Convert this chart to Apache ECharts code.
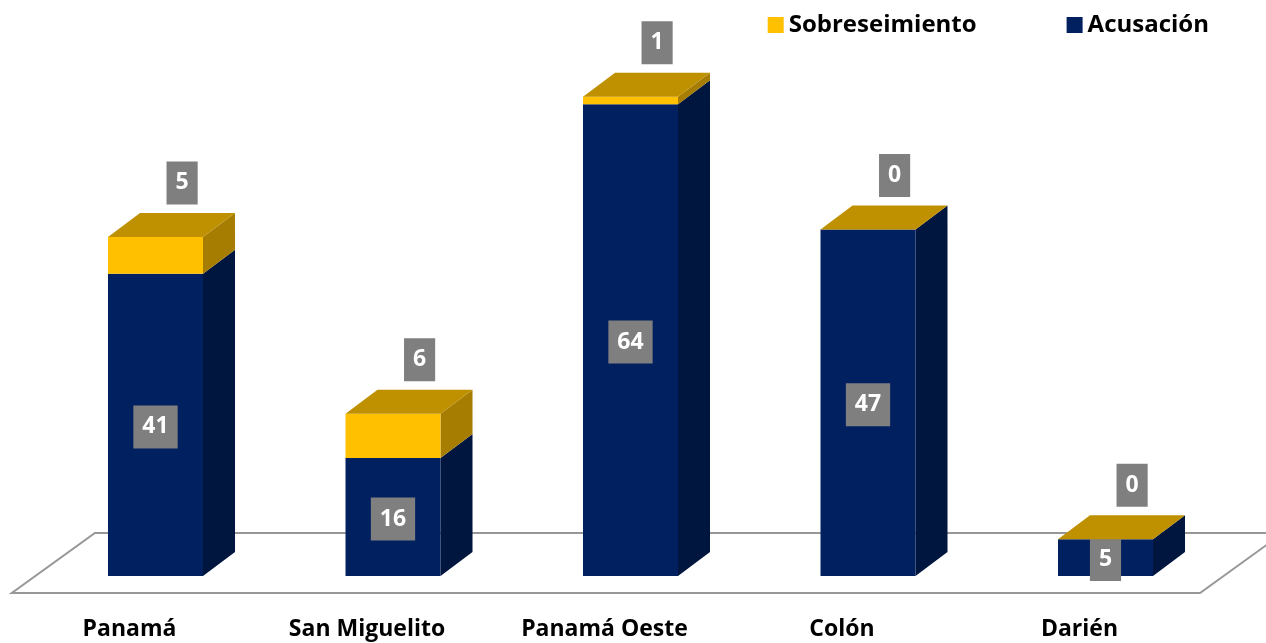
<!DOCTYPE html>
<html><head><meta charset="utf-8">
<script src="https://cdn.jsdelivr.net/npm/echarts@6/dist/echarts.min.js"></script>
<style>html,body{margin:0;padding:0;background:#fff}#c{width:1266px;height:643px}</style>
</head><body><div id="c"></div>
<script>
const categories = ['Panamá', 'San Miguelito', 'Panamá Oeste', 'Colón', 'Darién'];
const acusacion = [41, 16, 64, 47, 5];
const sobreseimiento = [5, 6, 1, 0, 0];

const NAVY = '#002060', NAVY_SIDE = '#00163F';
const GOLD = '#FFC000', GOLD_SIDE = '#A67D00', GOLD_TOP = '#BF9000';
const LBL_BG = '#7F7F7F';
const FONT = '"Open Sans", "Liberation Sans", sans-serif';

const chart = echarts.init(document.getElementById('c'), null, {renderer: 'canvas'});

function geom(api) {
  const band = api.size([1, 0])[0];
  const w = band * 0.4;
  return {band: band, w: w, dx: w * 0.337, dy: w * 0.2526};
}
function labelEl(text, x, y) {
  return {
    type: 'text', z2: 50,
    style: {
      text: String(text), x: x, y: y, fill: '#fff',
      font: 'bold 23px ' + FONT, align: 'center', verticalAlign: 'middle',
      backgroundColor: LBL_BG, padding: [9, 9, 9, 9], lineHeight: 25
    }
  };
}
function segment(api, base, val, front, side, top, labelMode) {
  const g = geom(api);
  const x = api.value(0);
  const p0 = api.coord([x, base]);
  const p1 = api.coord([x, base + val]);
  const cx = p0[0], l = cx - g.w / 2, r = cx + g.w / 2;
  const yb = p0[1], yt = p1[1];
  const children = [];
  children.push({type: 'polygon', shape: {points: [[r, yt], [r + g.dx, yt - g.dy], [r + g.dx, yb - g.dy], [r, yb]]}, style: {fill: side}});
  children.push({type: 'rect', shape: {x: l, y: yt, width: g.w, height: yb - yt}, style: {fill: front}});
  if (top) {
    children.push({type: 'polygon', shape: {points: [[l, yt], [l + g.dx, yt - g.dy], [r + g.dx, yt - g.dy], [r, yt]]}, style: {fill: top}});
  }
  if (labelMode === 'inside') {
    children.push(labelEl(val, cx, (yt + yb) / 2 + 2));
  } else if (labelMode === 'above') {
    children.push(labelEl(val, cx + g.w * 0.28, yt - g.dy - 30));
  }
  return {type: 'group', children: children};
}

const option = {
  animation: false,
  grid: {left: 36.75, right: 41.75, top: 60, bottom: 67, containLabel: false},
  legend: {
    right: 52, top: 8, itemWidth: 16, itemHeight: 16, itemGap: 90,
    textStyle: {fontFamily: FONT, fontWeight: 'bold', fontSize: 24, color: '#000'},
    data: [{name: 'Sobreseimiento', icon: 'rect'}, {name: 'Acusación', icon: 'rect'}]
  },
  xAxis: {
    type: 'category', data: categories,
    axisLine: {show: false}, axisTick: {show: false}, splitLine: {show: false},
    axisLabel: {
      fontFamily: FONT, fontWeight: 'bold', fontSize: 23, color: '#000',
      margin: 42, padding: [0, 52, 0, 0], interval: 0
    }
  },
  yAxis: {type: 'value', min: 0, max: 70, show: false, splitLine: {show: false}},
  series: [
    {
      type: 'custom', name: 'floor', silent: true, clip: false, z: 1,
      data: [[0, 0]],
      renderItem: function (params, api) {
        const g = geom(api);
        const p = api.coord([0, 0]);
        const gl = p[0] - g.band / 2;
        const gr = gl + g.band * categories.length;
        const yb = p[1];
        return {
          type: 'polygon',
          shape: {points: [[gl + g.band * 0.245, yb - 43], [gr + g.band * 0.248, yb - 43], [gr - g.band * 0.102, yb + 17], [gl - g.band * 0.105, yb + 17]]},
          style: {fill: 'none', stroke: '#979797', lineWidth: 2}
        };
      }
    },
    {
      type: 'custom', name: 'Acusación', clip: false, z: 2,
      itemStyle: {color: NAVY},
      data: acusacion.map(function (v, i) { return [i, v]; }),
      renderItem: function (params, api) {
        return segment(api, 0, api.value(1), NAVY, NAVY_SIDE, null, 'inside');
      }
    },
    {
      type: 'custom', name: 'Sobreseimiento', clip: false, z: 3,
      itemStyle: {color: GOLD},
      data: sobreseimiento.map(function (v, i) { return [i, acusacion[i], v]; }),
      renderItem: function (params, api) {
        return segment(api, api.value(1), api.value(2), GOLD, GOLD_SIDE, GOLD_TOP, 'above');
      }
    }
  ]
};
chart.setOption(option);
</script></body></html>
